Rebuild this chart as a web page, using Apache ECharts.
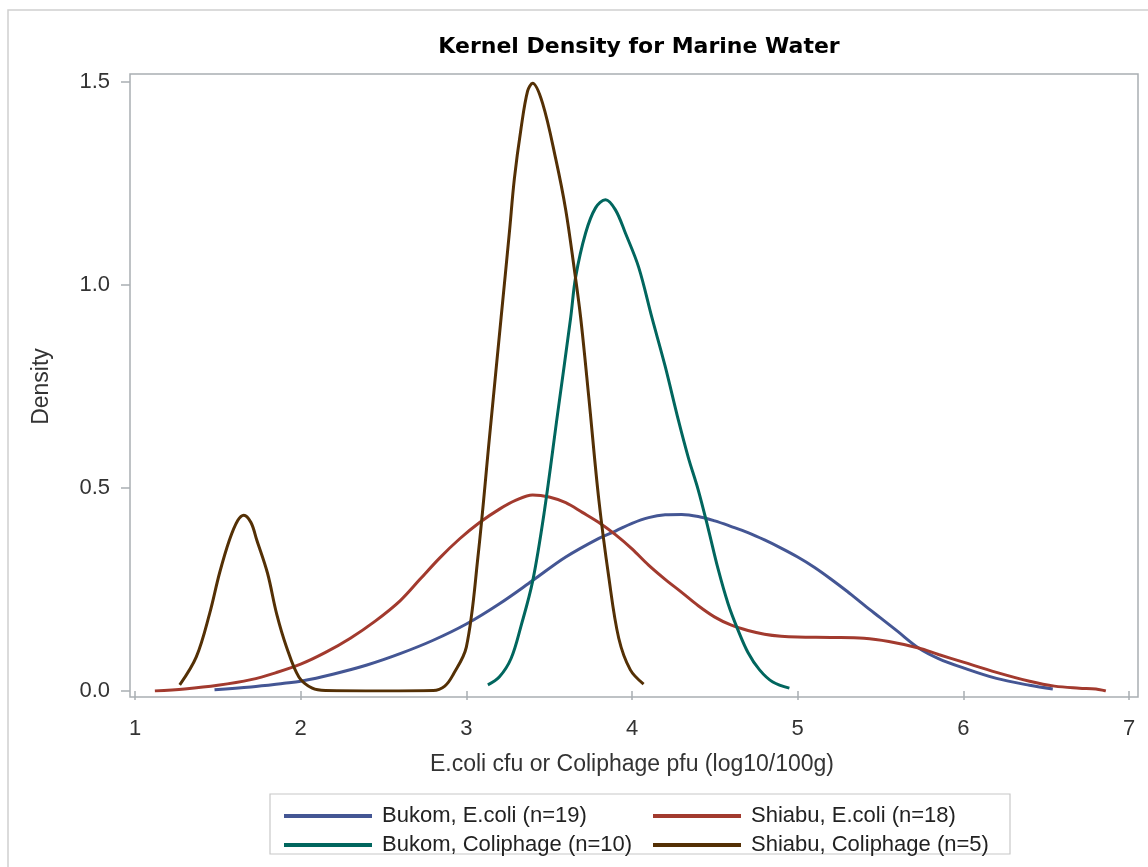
<!DOCTYPE html>
<html>
<head>
<meta charset="utf-8">
<script src="https://cdn.jsdelivr.net/npm/echarts@6.0.0/dist/echarts.min.js"></script>
<style>html,body{margin:0;padding:0;background:#fff}#chart{width:1148px;height:867px}</style>
</head>
<body>
<div id="chart"></div>
<script>
// ---- data ----
const xTicks = [1, 2, 3, 4, 5, 6, 7];
const yTicks = [0.0, 0.5, 1.0, 1.5];
const seriesNames = ['Bukom, E.coli (n=19)', 'Shiabu, E.coli (n=18)', 'Bukom, Coliphage (n=10)', 'Shiabu, Coliphage (n=5)'];

const bukomEcoli = [[1.48,0.003],[1.7,0.01],[1.9,0.019],[2.0,0.024],[2.2,0.042],[2.4,0.064],[2.6,0.092],[2.8,0.125],[3.0,0.165],[3.2,0.215],[3.4,0.272],[3.6,0.33],[3.8,0.376],[3.9,0.394],[4.0,0.413],[4.1,0.427],[4.2,0.434],[4.3,0.435],[4.4,0.43],[4.5,0.419],[4.6,0.405],[4.7,0.39],[4.8,0.372],[4.9,0.352],[5.0,0.33],[5.1,0.305],[5.2,0.276],[5.3,0.245],[5.4,0.212],[5.5,0.18],[5.6,0.148],[5.73,0.106],[5.85,0.08],[6.0,0.057],[6.2,0.031],[6.4,0.014],[6.54,0.005]];
const shiabuEcoli = [[1.12,0.0],[1.3,0.005],[1.5,0.014],[1.7,0.028],[1.85,0.045],[2.0,0.066],[2.15,0.095],[2.3,0.13],[2.45,0.172],[2.6,0.222],[2.72,0.275],[2.84,0.328],[2.96,0.375],[3.08,0.415],[3.2,0.448],[3.3,0.47],[3.4,0.483],[3.5,0.478],[3.6,0.464],[3.7,0.44],[3.8,0.415],[3.9,0.385],[4.0,0.35],[4.1,0.31],[4.2,0.275],[4.3,0.243],[4.4,0.21],[4.5,0.182],[4.6,0.162],[4.7,0.149],[4.8,0.14],[4.9,0.135],[5.0,0.133],[5.2,0.132],[5.4,0.13],[5.55,0.122],[5.73,0.106],[5.85,0.09],[6.0,0.071],[6.2,0.046],[6.4,0.024],[6.55,0.012],[6.7,0.007],[6.8,0.005],[6.86,0.0]];
const bukomColiphage = [[3.13,0.015],[3.2,0.035],[3.27,0.08],[3.33,0.16],[3.4,0.27],[3.47,0.44],[3.55,0.68],[3.63,0.92],[3.66,1.02],[3.72,1.128],[3.78,1.19],[3.84,1.21],[3.9,1.185],[3.96,1.128],[4.04,1.044],[4.12,0.92],[4.2,0.8],[4.28,0.667],[4.34,0.575],[4.4,0.495],[4.46,0.4],[4.52,0.3],[4.58,0.215],[4.64,0.15],[4.7,0.095],[4.77,0.052],[4.85,0.022],[4.95,0.007]];
const shiabuColiphage = [[1.27,0.015],[1.37,0.084],[1.45,0.19],[1.51,0.29],[1.57,0.372],[1.62,0.42],[1.657,0.433],[1.7,0.415],[1.735,0.372],[1.8,0.29],[1.855,0.19],[1.915,0.108],[1.99,0.034],[2.07,0.007],[2.15,0.001],[2.5,0.0],[2.8,0.001],[2.87,0.012],[2.92,0.04],[3.0,0.108],[3.07,0.33],[3.14,0.626],[3.21,0.92],[3.26,1.13],[3.29,1.262],[3.33,1.385],[3.37,1.478],[3.4,1.497],[3.46,1.448],[3.54,1.31],[3.6,1.185],[3.65,1.044],[3.69,0.92],[3.74,0.72],[3.8,0.47],[3.86,0.28],[3.92,0.13],[3.99,0.052],[4.07,0.017]];

const colors = ['#445694', '#A23A2E', '#01665E', '#543005'];
const seriesData = [bukomEcoli, shiabuEcoli, bukomColiphage, shiabuColiphage];

const chart = echarts.init(document.getElementById('chart'), null, {renderer: 'canvas'});
const FONT = '"Liberation Sans", Arial, sans-serif';

const option = {
  animation: false,
  backgroundColor: '#fff',
  title: {
    text: 'Kernel Density for Marine Water',
    left: 634, top: 31, textAlign: 'center',
    textStyle: {fontFamily: '"DejaVu Sans", sans-serif', fontWeight: 'bold', fontSize: 22, color: '#000'}
  },
  grid: {left: 135, top: 82, width: 994, height: 609, containLabel: false, outerBoundsMode: 'none'},
  xAxis: {
    type: 'value', min: xTicks[0], max: xTicks[xTicks.length - 1], interval: 1, offset: 6,
    name: 'E.coli cfu or Coliphage pfu (log10/100g)', nameLocation: 'middle', nameGap: 56,
    nameTextStyle: {fontFamily: FONT, fontSize: 23, color: '#333'},
    axisLine: {show: false},
    axisTick: {show: true, length: 9, lineStyle: {color: '#a9aeb2', width: 1.5}},
    axisLabel: {fontFamily: FONT, fontSize: 22, color: '#333', margin: 21},
    splitLine: {show: false}
  },
  yAxis: {
    type: 'value', min: yTicks[0], max: yTicks[yTicks.length - 1], interval: 0.5, offset: 5,
    name: 'Density', nameLocation: 'middle', nameGap: 77, nameRotate: 90,
    nameTextStyle: {fontFamily: FONT, fontSize: 23, color: '#333'},
    axisLine: {show: false},
    axisTick: {show: true, length: 9, lineStyle: {color: '#a9aeb2', width: 1.5}},
    axisLabel: {fontFamily: FONT, fontSize: 22, color: '#333', margin: 20, formatter: v => v.toFixed(1)},
    splitLine: {show: false}
  },
  legend: [
    {
      data: [seriesNames[0], seriesNames[2]], orient: 'vertical', left: 279, top: 800,
      itemWidth: 88, itemHeight: 4, itemGap: 7, icon: 'rect',
      textStyle: {fontFamily: FONT, fontSize: 22, color: '#222', lineHeight: 22, padding: [0, 0, 0, 5]}
    },
    {
      data: [seriesNames[1], seriesNames[3]], orient: 'vertical', left: 648, top: 800,
      itemWidth: 88, itemHeight: 4, itemGap: 7, icon: 'rect',
      textStyle: {fontFamily: FONT, fontSize: 22, color: '#222', lineHeight: 22, padding: [0, 0, 0, 5]}
    }
  ],
  graphic: [
    {type: 'rect', shape: {x: 8, y: 10, width: 1150, height: 870}, style: {fill: 'none', stroke: '#d0d0d0', lineWidth: 1.5}, z: -1, silent: true},
    {type: 'rect', shape: {x: 130, y: 74, width: 1008, height: 623}, style: {fill: 'none', stroke: '#a9aeb2', lineWidth: 1.5}, z: 0, silent: true},
    {type: 'rect', shape: {x: 270, y: 794, width: 740, height: 60}, style: {fill: 'none', stroke: '#c8c8c8', lineWidth: 1.2}, z: 0, silent: true}
  ],
  series: seriesData.map((d, i) => ({
    name: seriesNames[i], type: 'line', data: d, smooth: 0.35, showSymbol: false,
    lineStyle: {color: colors[i], width: 3}, itemStyle: {color: colors[i]}, z: 3 + i
  }))
};
chart.setOption(option);
</script>
</body>
</html>
